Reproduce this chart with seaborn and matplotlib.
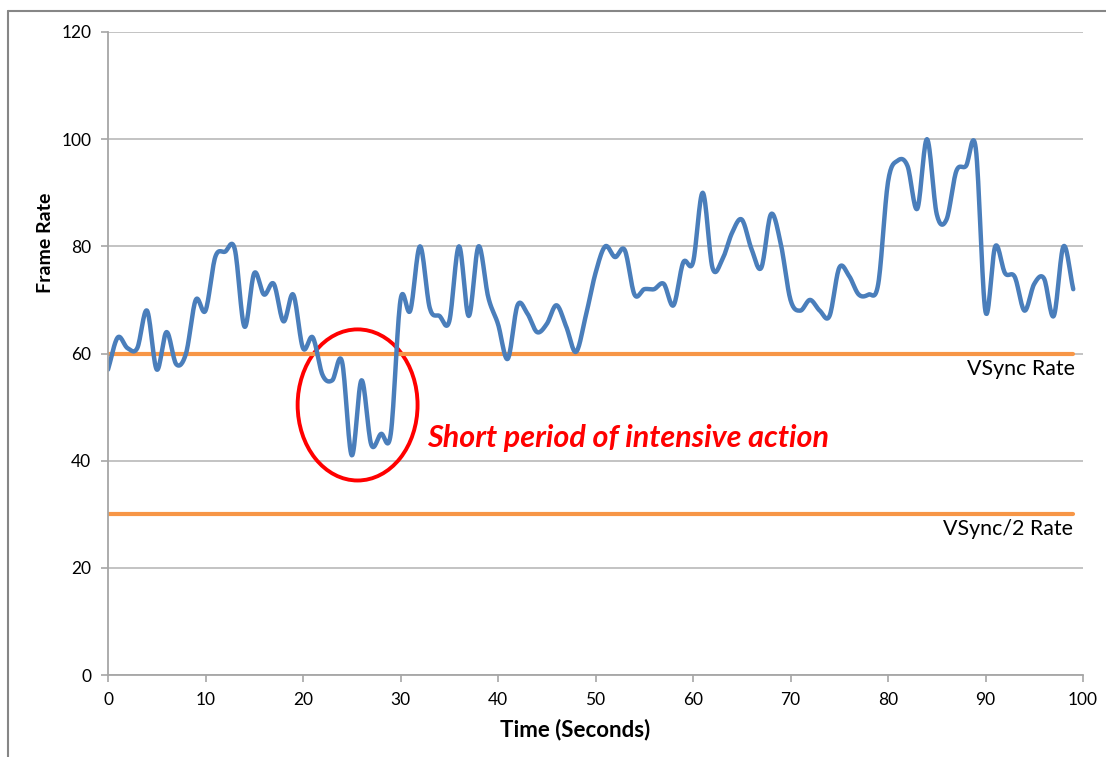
import numpy as np
import pandas as pd
import matplotlib.pyplot as plt
import seaborn as sns
from matplotlib.patches import Ellipse
from matplotlib.lines import Line2D


# Data (one sample per second)
seconds = np.arange(100)
frame_rate = [57, 63, 61, 61, 68, 57, 64, 58, 60, 70,
              68, 78, 79, 79.5, 65, 75, 71, 73, 66, 71,
              61, 63, 56, 55, 58.5, 41, 55, 43, 45, 45,
              70, 68, 80, 68.5, 67, 66, 80, 67, 80, 70.5,
              65.5, 59, 69, 67.5, 64, 65.5, 69, 65, 60.3, 67,
              75, 80, 78, 79.3, 71, 72, 72, 73, 69, 77,
              77, 90, 76, 77.5, 82.5, 85, 79.5, 76, 86, 80.5,
              70, 68, 70, 68, 67, 76, 74.5, 71, 71, 73,
              92, 96, 95, 87, 100, 86, 85, 94, 95, 98.3,
              67.8, 80, 75, 74.3, 68, 73, 74, 67, 80, 72]
vsync_rate = 60
vsync_half_rate = 30

blue = '#4A7EBB'
orange = '#F79646'
red = '#FF0000'


def smooth(x, y, n=16):
    # Excel style smoothed line (Catmull-Rom through each point)
    x = np.asarray(x, float)
    y = np.asarray(y, float)
    px = np.concatenate([[2 * x[0] - x[1]], x, [2 * x[-1] - x[-2]]])
    py = np.concatenate([[2 * y[0] - y[1]], y, [2 * y[-1] - y[-2]]])
    t = np.linspace(0, 1, n, endpoint=False)
    xs, ys = [], []
    for i in range(1, len(px) - 2):
        for p, out in ((px, xs), (py, ys)):
            p0, p1, p2, p3 = p[i - 1], p[i], p[i + 1], p[i + 2]
            out.extend(0.5 * (2 * p1 + (-p0 + p2) * t
                              + (2 * p0 - 5 * p1 + 4 * p2 - p3) * t ** 2
                              + (-p0 + 3 * p1 - 3 * p2 + p3) * t ** 3))
    xs.append(x[-1])
    ys.append(y[-1])
    return np.array(xs), np.array(ys)


sx, sy = smooth(seconds, frame_rate)
curve = pd.DataFrame({'time': sx, 'fps': sy})
lines = pd.DataFrame({'time': seconds,
                      'vsync': [vsync_rate] * len(seconds),
                      'vsync2': [vsync_half_rate] * len(seconds)})

sns.set_theme(style='white')
plt.rcParams['font.family'] = ['Lato', 'DejaVu Sans']

fig = plt.figure(figsize=(11.06, 7.57), dpi=100)
ax = fig.add_axes([108 / 1106, 1 - 675 / 757, 975 / 1106, 643 / 757])

# outer chart frame (only top and left edges visible)
fig.add_artist(Line2D([8 / 1106, 8 / 1106], [0, 1 - 11 / 757], transform=fig.transFigure,
                      color='#868686', lw=1.5))
fig.add_artist(Line2D([8 / 1106, 1], [1 - 11 / 757, 1 - 11 / 757], transform=fig.transFigure,
                      color='#868686', lw=1.5))

sns.lineplot(data=lines, x='time', y='vsync', color=orange, linewidth=3, ax=ax)
sns.lineplot(data=lines, x='time', y='vsync2', color=orange, linewidth=3, ax=ax)
sns.lineplot(data=curve, x='time', y='fps', color=blue, linewidth=3.2, sort=False, ax=ax)

ax.add_patch(Ellipse((25.6, 50.4), 12.3, 28.2, fill=False, edgecolor=red, lw=2.8))
ax.text(32.7, 44.2, 'Short period of intensive action', color=red, fontsize=22,
        fontweight='bold', fontstyle='italic', ha='left', va='center')
ax.text(99.2, 56.0, 'VSync Rate', fontsize=15.4, ha='right', va='baseline', color='black')
ax.text(99.0, 26.1, 'VSync/2 Rate', fontsize=15.4, ha='right', va='baseline', color='black')

ax.set_xlim(0, 100)
ax.set_ylim(0, 120)
ax.set_xticks(range(0, 101, 10))
ax.set_yticks(range(0, 121, 20))
ax.yaxis.grid(True, color='#BEBEBE', lw=1.3)
ax.xaxis.grid(False)
ax.set_axisbelow(True)
for side in ['top', 'right']:
    ax.spines[side].set_visible(False)
for side in ['left', 'bottom']:
    ax.spines[side].set_color('#A6A6A6')
    ax.spines[side].set_linewidth(1.3)
ax.tick_params(axis='both', direction='out', length=5, width=1.2, color='#A6A6A6',
               labelsize=12.5, labelcolor='black', pad=7)
ax.tick_params(axis='x', bottom=True)
ax.tick_params(axis='y', left=True)

ax.set_xlabel('Time (Seconds)', fontsize=16, fontweight='bold', color='black')
ax.set_ylabel('Frame Rate', fontsize=14, fontweight='bold', color='black')
ax.xaxis.set_label_coords(0.479, -0.068)
ax.yaxis.set_label_coords(-0.055, 0.672)

fig.savefig('out.png', dpi=100)
